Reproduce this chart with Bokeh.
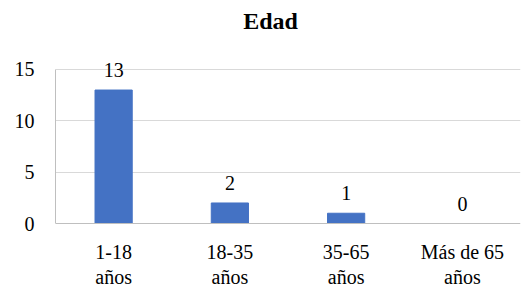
from bokeh.plotting import figure
from bokeh.models import ColumnDataSource, FixedTicker, Range1d, Label, Span
from bokeh.embed import file_html
from bokeh.resources import INLINE
from bokeh.core.properties import value

categories = ["1-18\naños", "18-35\naños", "35-65\naños", "Más de 65\naños"]
values = [13, 2, 1, 0]
labels = ["13", "2", "1", "0"]
y_ticks = [0, 5, 10, 15]
title_text = "Edad"

xs = [i + 0.5 for i in range(len(categories))]
zeros = [0] * len(categories)
src = ColumnDataSource(dict(x=xs, y=values, t=labels, c=categories, z=zeros))

FONT = "Liberation Serif"

# frame covers the full height; 0..15 occupies the same pixels as in the reference
p = figure(width=521, height=288, output_backend="svg", toolbar_location=None,
           x_range=Range1d(0, 4.0), y_range=Range1d(-6.33, 21.72),
           x_axis_location=None,
           min_border_left=55, min_border_right=1, min_border_top=0, min_border_bottom=0)
p.outline_line_color = None
p.background_fill_color = "white"
p.border_fill_color = "white"

p.vbar(x="x", top="y", bottom=0, width=0.32, source=src, color="#4472C4")

# value labels
p.text(x="x", y="y", text="t", source=src, text_align="center", text_baseline="bottom",
       y_offset=-13, text_font=value(FONT), text_font_size="20px", text_color="#000000")

# category labels
p.text(x="x", y="z", text="c", source=src, text_align="center", text_baseline="top",
       y_offset=17, text_font=value(FONT), text_font_size="20px", text_color="#000000",
       text_line_height=1.17)

# title
p.add_layout(Label(x=1.85, y=15, text=title_text, text_align="center", text_baseline="middle",
                   y_offset=48, text_font=FONT, text_font_size="24px",
                   text_font_style="bold", text_color="#000000"))

# baseline (category axis line)
p.add_layout(Span(location=0, dimension="width", line_color="#bfbfbf", line_width=1))

p.yaxis.ticker = FixedTicker(ticks=y_ticks)
p.yaxis.bounds = (0, 15)
p.yaxis.major_tick_line_color = None
p.yaxis.minor_tick_line_color = None
p.yaxis.axis_line_color = "#bfbfbf"
p.yaxis.major_label_text_font = FONT
p.yaxis.major_label_text_font_size = "20px"
p.yaxis.major_label_text_color = "#000000"
p.yaxis.major_label_standoff = 15

p.xgrid.grid_line_color = None
p.ygrid.grid_line_color = "#d9d9d9"
p.ygrid.ticker = FixedTicker(ticks=y_ticks[1:])

open("out.html", "w").write(file_html(p, INLINE))
